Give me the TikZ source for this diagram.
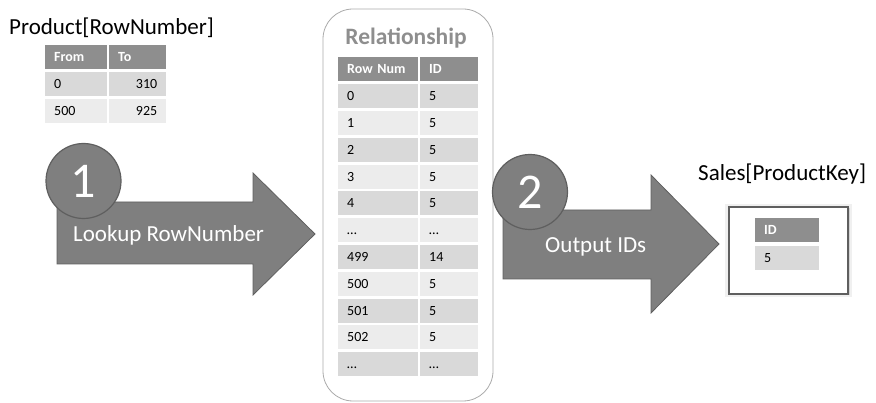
\documentclass[tikz,border=0pt]{standalone}
\usepackage{fontspec}
\setmainfont{Carlito}
\usetikzlibrary{positioning,shadows}

\definecolor{arrowgray}{RGB}{127,127,127}
\definecolor{edgegray}{RGB}{95,95,95}
\definecolor{hdrgray}{RGB}{142,142,142}
\definecolor{celldark}{RGB}{217,217,217}
\definecolor{celllight}{RGB}{236,236,236}
\definecolor{boxgray}{RGB}{170,170,170}

\tikzset{
  cellbase/.style={anchor=north west,inner xsep=9pt,inner ysep=0pt,minimum height=24pt,
    text height=9pt,text depth=0pt,align=left,font=\fontsize{14}{16}\selectfont},
  hdr/.style={cellbase,fill=hdrgray,text=white,font=\bfseries\fontsize{14}{16}\selectfont},
  dark/.style={cellbase,fill=celldark},
  light/.style={cellbase,fill=celllight},
  title/.style={anchor=base west,inner sep=0pt,font=\fontsize{23}{27}\selectfont},
  steptext/.style={anchor=base west,inner sep=0pt,text=white,font=\fontsize{23}{27}\selectfont},
  badge/.style={circle,fill=arrowgray,draw=edgegray,line width=1.2pt,minimum size=75pt,
    inner sep=0pt,text=white,font=\fontsize{50}{56}\selectfont},
  bigarrow/.style={fill=arrowgray,draw=edgegray,line width=0.8pt,line join=miter}
}

\begin{document}
\begin{tikzpicture}[x=1pt,y=-1pt]
\useasboundingbox (0,0) rectangle (876,403);

% left lookup table
\node[title] (prodtitle) at (9,35) {Product[RowNumber]};
\node[hdr,text width=44pt] (pfrom) at (45,45) {From};
\node[hdr,text width=39pt] (pto) at (109,45) {To};
\node[dark,text width=44pt] (pfrom1) at (45,72) {0};
\node[dark,text width=39pt,align=right] (pto1) at (109,72) {310};
\node[light,text width=44pt] (pfrom2) at (45,99) {500};
\node[light,text width=39pt,align=right] (pto2) at (109,99) {925};

% step 1
\draw[bigarrow] (57,202) -- (253,202) -- (253,173) -- (315,234) -- (253,295) -- (253,264) -- (57,264) -- cycle;
\node[badge] (one) at (83.5,181) {1};
\node[steptext] (lookup) at (73,242) {Lookup RowNumber};

% relationship table
\draw[boxgray,line width=0.8pt,rounded corners=30pt] (323,9) rectangle (493,401);
\node[anchor=base,inner sep=0pt,text=hdrgray,font=\bfseries\fontsize{23.5}{27}\selectfont] (reltitle) at (406,45) {Relationship};
\node[hdr,text width=62pt] (rnhead) at (338,57) {Row Num};
\node[hdr,text width=40pt] (idhead) at (420,57) {ID};
\foreach \rn/\id [count=\i from 0] in {0/5,1/5,2/5,3/5,4/5,\ldots/\ldots,499/14,500/5,501/5,502/5,\ldots/\ldots}{
  \ifodd\i \def\rs{light}\else \def\rs{dark}\fi
  \node[\rs,text width=62pt] (rn\i) at (338,{84+26.8*\i}) {\rn};
  \node[\rs,text width=40pt] (id\i) at (420,{84+26.8*\i}) {\id};
}

% step 2
\draw[bigarrow] (503,210) -- (651,210) -- (651,175) -- (719,244) -- (651,313) -- (651,279) -- (503,279) -- cycle;
\node[badge] (two) at (530,192) {2};
\node[steptext] (output) at (545,253) {Output IDs};

% result column, with a soft halo round the frame
\node[title] (salestitle) at (698,181) {Sales[ProductKey]};
\node[draw=edgegray,line width=1.2pt,fill=white,minimum width=119pt,minimum height=87pt,
  drop shadow={shadow xshift=0pt,shadow yshift=0pt,shadow scale=1.07,opacity=0.12},
  drop shadow={shadow xshift=1.5pt,shadow yshift=-1.5pt,opacity=0.25}] (salesbox) at (788.5,250.5) {};
\node[hdr,text width=46pt] (skhead) at (755,218) {ID};
\node[dark,text width=46pt] (sk1) at (755,246) {5};
\end{tikzpicture}
\end{document}
